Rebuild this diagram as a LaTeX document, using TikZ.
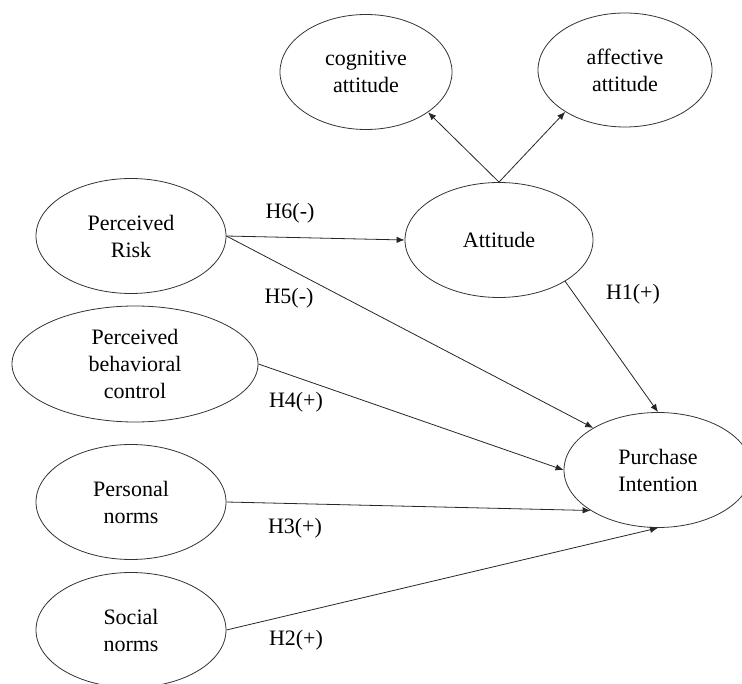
\documentclass[tikz,border=0pt]{standalone}
\usepackage{fontspec}
\setmainfont{Liberation Serif}
\usetikzlibrary{shapes.geometric,arrows.meta}
\begin{document}
\begin{tikzpicture}[x=1pt,y=-1pt,
  latent/.style={draw=black!80,line width=0.8pt,ellipse,inner sep=0pt,align=center,
    font=\fontsize{22pt}{27pt}\selectfont},
  lbl/.style={font=\fontsize{22pt}{27pt}\selectfont,inner sep=0pt},
  conn/.style={draw=black!85,line width=0.8pt,-{Latex[length=8pt,width=6.5pt]}}]
\useasboundingbox (0,0) rectangle (742,684);
\begin{scope}
\clip (0,0) rectangle (742,684);
\node[latent,minimum width=172pt,minimum height=115pt] (cog) at (366,72) {cognitive\\attitude};
\node[latent,minimum width=174pt,minimum height=114pt] (aff) at (625,70) {affective\\attitude};
\node[latent,minimum width=188pt,minimum height=115pt] (att) at (499,240) {Attitude};
\node[latent,minimum width=190pt,minimum height=115pt] (pr) at (131,236) {Perceived\\Risk};
\node[latent,minimum width=246pt,minimum height=116pt] (pbc) at (135,364) {Perceived\\behavioral\\control};
\node[latent,minimum width=190pt,minimum height=115pt] (pn) at (131,502) {Personal\\norms};
\node[latent,minimum width=190pt,minimum height=115pt] (sn) at (131,630) {Social\\norms};
\node[latent,minimum width=188pt,minimum height=115pt] (pi) at (658,470) {Purchase\\Intention};

\draw[conn] (att.north) -- (cog.327);
\draw[conn] (att.north) -- (aff.215);
\draw[conn] (pr.east) -- (att.west);
\draw[conn] (pr.east) -- (pi.147.5);
\draw[conn] (att.328) -- (pi.north);
\draw[conn] (pbc.east) -- (pi.west);
\draw[conn] (pn.east) -- (pi.211);
\draw[conn] (sn.east) -- (pi.south);

\node[lbl] (h6) at (290,213) {H6(-)};
\node[lbl] (h5) at (289,298) {H5(-)};
\node[lbl] (h4) at (296,402) {H4(+)};
\node[lbl] (h3) at (295,528) {H3(+)};
\node[lbl] (h2) at (296,640) {H2(+)};
\node[lbl] (h1) at (633,294) {H1(+)};
\end{scope}
\end{tikzpicture}
\end{document}
